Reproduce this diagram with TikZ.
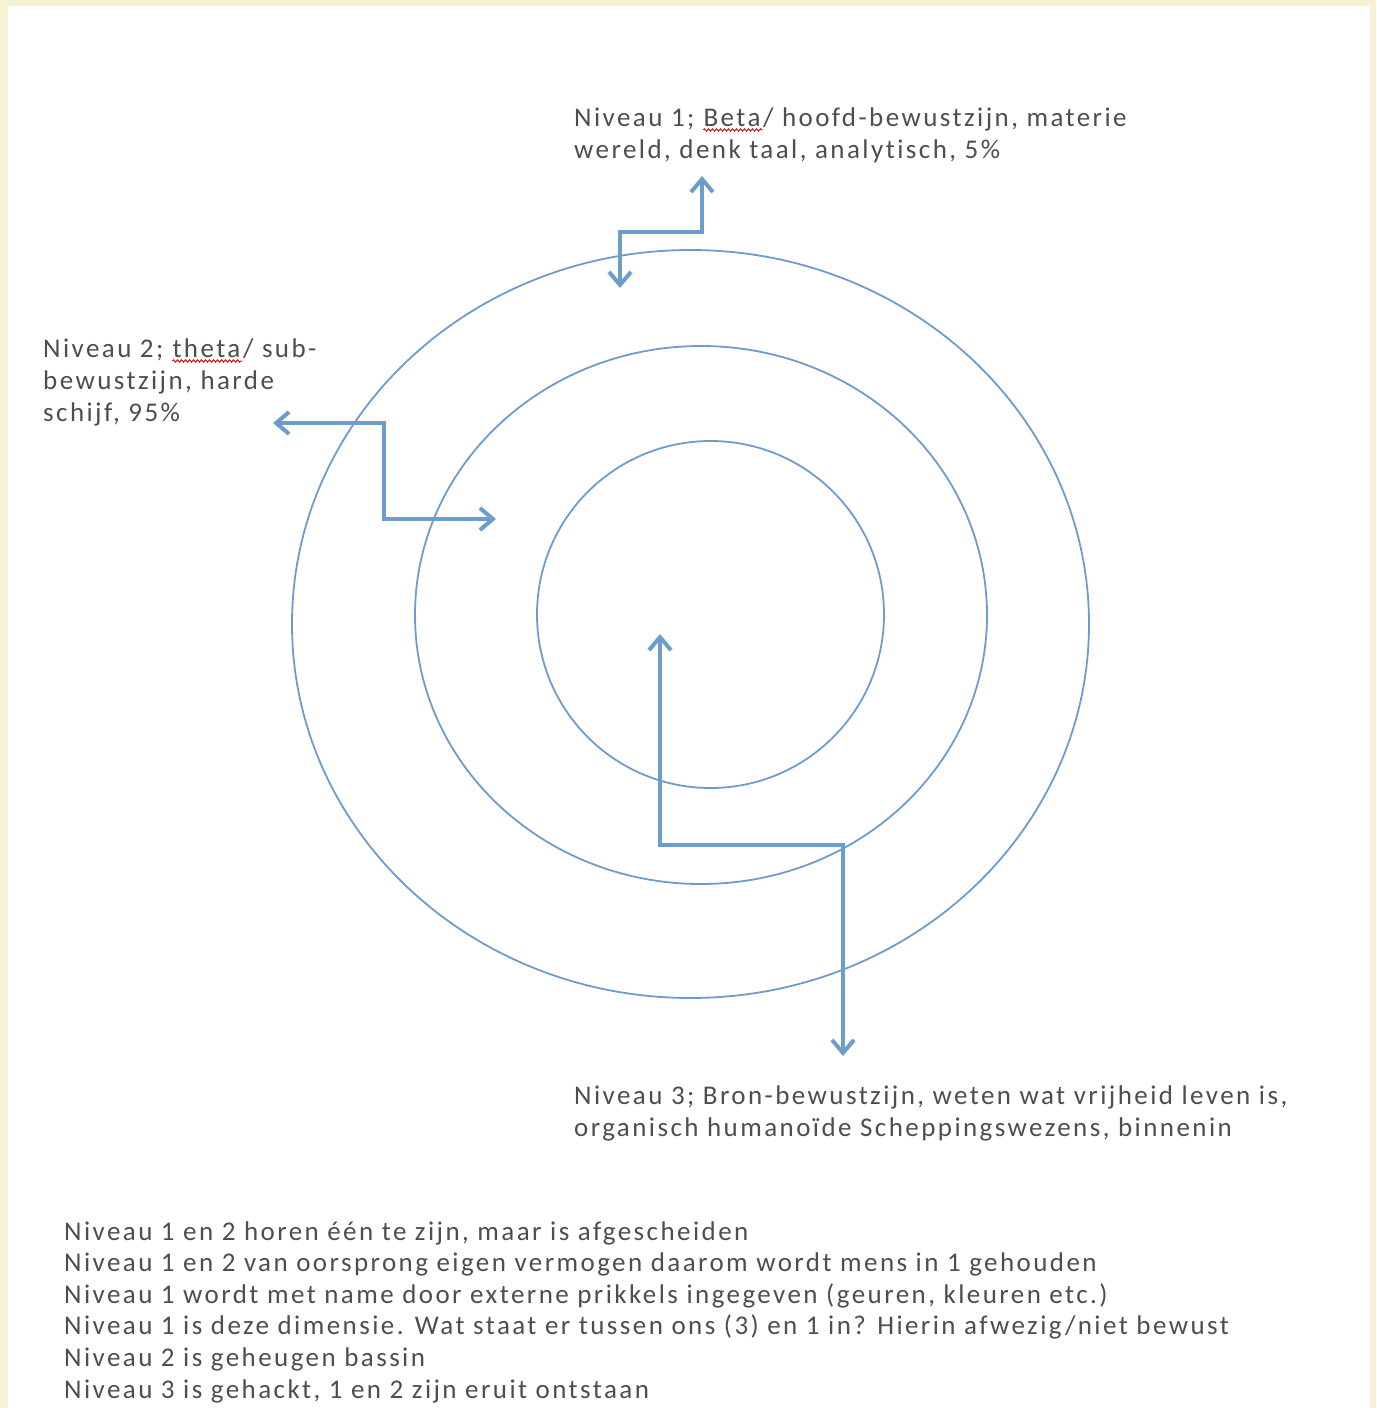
\documentclass[tikz,border=0pt]{standalone}
\usepackage{fontspec}
\setmainfont{Carlito}[LetterSpace=9,Ligatures=NoCommon]
\usetikzlibrary{arrows.meta,decorations.pathmorphing}
\definecolor{cream}{HTML}{F7F1D6}
\definecolor{ringblue}{HTML}{6F9CCD}
\definecolor{arrblue}{HTML}{6E9DCB}
\definecolor{txtgray}{HTML}{4E4E4E}
\tikzset{
  ring/.style={draw=ringblue, line width=1.8pt},
  conn/.style={draw=arrblue, line width=4.5pt, line join=miter,
    arrows={Straight Barb[length=13pt,width=22pt,line width=4pt]-Straight Barb[length=13pt,width=22pt,line width=4pt]}},
  label/.style={inner sep=0pt, anchor=base west, align=left, text=txtgray,
    font=\fontsize{27}{32}\selectfont},
  squig/.style={draw=red!85!black, line width=0.9pt,
    decorate, decoration={snake, amplitude=1.2pt, segment length=4pt}}
}
\newcommand\spellmark[1]{\tikz[x=1pt,y=1pt,baseline=(sw.base)]{\node[inner sep=0pt] (sw) {#1};
  \draw[squig] ([yshift=-4pt]sw.base west) -- ([yshift=-4pt,xshift=2pt]sw.base east);}}
\begin{document}
\begin{tikzpicture}[x=1pt,y=-1pt]
\useasboundingbox (0,0) rectangle (1376,1408);
\fill[cream] (0,0) rectangle (1376,1408);
\fill[white] (8,6) rectangle (1370,1408);
% rings
\draw[ring] (690.5,624) ellipse [x radius=398.5, y radius=374];
\draw[ring] (701,615) ellipse [x radius=286, y radius=269];
\draw[ring] (710.5,614.5) ellipse [x radius=173.5, y radius=173.5];
% labels (anchor = baseline of the last line)
\node[label] (t1) at (574,158) {Niveau 1; \spellmark{Beta}/ hoofd-bewustzijn, materie\\wereld, denk taal, analytisch, 5\%};
\node[label] (t2) at (43,421) {Niveau 2; \spellmark{theta}/ sub-\\bewustzijn, harde\\schijf, 95\%};
\node[label, font=\fontsize{27}{31.5}\selectfont] (t3) at (574,1136) {Niveau 3; Bron-bewustzijn, weten wat vrijheid leven is,\\organisch humanoïde Scheppingswezens, binnenin};
\node[label, font=\fontsize{27}{31.6}\selectfont] (notes) at (64,1398) {Niveau 1 en 2 horen één te zijn, maar is afgescheiden\\
Niveau 1 en 2 van oorsprong eigen vermogen daarom wordt mens in 1 gehouden\\
Niveau 1 wordt met name door externe prikkels ingegeven (geuren, kleuren etc.)\\
Niveau 1 is deze dimensie. Wat staat er tussen ons (3) en 1 in? Hierin afwezig/niet bewust\\
Niveau 2 is geheugen bassin\\
Niveau 3 is gehackt, 1 en 2 zijn eruit ontstaan};
% connectors
\coordinate (a1s) at (620,288);
\coordinate (a1b) at (620,232);
\coordinate (a1c) at (702,232);
\coordinate (a1e) at (702,176);
\draw[conn] (a1s) -- (a1b) -- (a1c) -- (a1e);
\coordinate (a2s) at (273,423);
\coordinate (a2b) at (384,423);
\coordinate (a2c) at (384,519);
\coordinate (a2e) at (496,519);
\draw[conn] (a2s) -- (a2b) -- (a2c) -- (a2e);
\coordinate (a3s) at (660,634);
\coordinate (a3b) at (660,845);
\coordinate (a3c) at (843,845);
\coordinate (a3e) at (843,1056);
\draw[conn] (a3s) -- (a3b) -- (a3c) -- (a3e);
\end{tikzpicture}
\end{document}
